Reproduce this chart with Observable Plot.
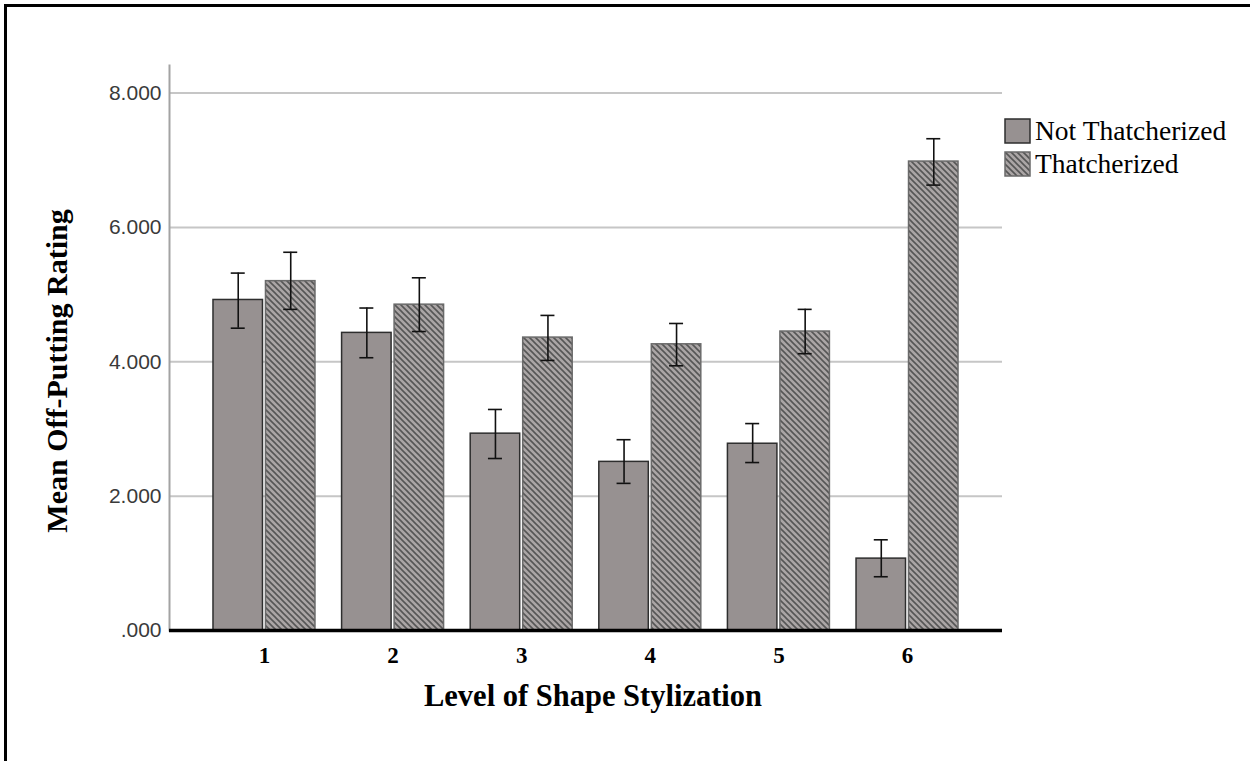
<!DOCTYPE html>
<html>
<head>
<meta charset="utf-8">
<script src="https://cdn.jsdelivr.net/npm/d3@7"></script>
<script src="https://cdn.jsdelivr.net/npm/@observablehq/plot@0.6"></script>
<style>
  html, body { margin: 0; padding: 0; background: #fff; }
  #wrap { position: relative; width: 1250px; height: 761px; overflow: hidden; }
  #border { position: absolute; left: 4px; top: 4px; right: -10px; bottom: -10px;
            border-top: 3px solid #000; border-left: 3px solid #000; pointer-events: none; }
  #legend { position: absolute; left: 1004px; top: 114px; font-family: "Liberation Serif", "Times New Roman", serif;
            font-size: 27.5px; color: #000; }
  .item { display: flex; align-items: center; height: 33px; }
</style>
</head>
<body>
<div id="wrap">
  <div id="chart"></div>
  <div id="legend"></div>
  <div id="border"></div>
</div>
<script>
// Mean off-putting rating by level of shape stylization, with error bars
const levels = ["1", "2", "3", "4", "5", "6"];
const seriesNames = ["Not Thatcherized", "Thatcherized"];

const notMean = [4.92, 4.43, 2.93, 2.51, 2.78, 1.07];
const notLow  = [4.50, 4.06, 2.56, 2.19, 2.50, 0.80];
const notHigh = [5.32, 4.80, 3.29, 2.84, 3.08, 1.35];

const thaMean = [5.20, 4.85, 4.36, 4.26, 4.45, 6.98];
const thaLow  = [4.78, 4.45, 4.02, 3.94, 4.12, 6.63];
const thaHigh = [5.63, 5.25, 4.69, 4.57, 4.78, 7.32];

const yTicks = [0, 2, 4, 6, 8];

const notData = levels.map((l, i) => ({level: l, mean: notMean[i], lo: notLow[i], hi: notHigh[i]}));
const thaData = levels.map((l, i) => ({level: l, mean: thaMean[i], lo: thaLow[i], hi: thaHigh[i]}));

// Geometry of the band scale, so paired bars can split each band
const W = 1250, H = 761;
const mL = 169, mR = 248, mT = 65, mB = 131;
const pInner = 0.207, pOuter = 0.342;
const step = (W - mL - mR) / (levels.length - pInner + 2 * pOuter);
const bw = step * (1 - pInner);
const gap = 1.5;
const half = bw / 2 - gap;          // width of one bar
const cNot = half / 2;              // bar centre offsets from band start
const cTha = bw / 2 + gap + half / 2;
const cap = 7;

const NOT_FILL = "#979191";
const serif = "'Liberation Serif', 'Times New Roman', serif";
const sans = "'Liberation Sans', Arial, sans-serif";

const errStyle = {stroke: "#111", strokeWidth: 1.6};

const plot = Plot.plot({
  width: W,
  height: H,
  marginLeft: mL,
  marginRight: mR,
  marginTop: mT,
  marginBottom: mB,
  x: {type: "band", domain: levels, paddingInner: pInner, paddingOuter: pOuter, round: false},
  y: {domain: [0, 8.41]},
  marks: [
    Plot.ruleY([2, 4, 6, 8], {stroke: "#c6c6c6", strokeWidth: 2}),
    Plot.frame({anchor: "left", stroke: "#a3a3a3", strokeWidth: 2}),
    Plot.barY(notData, {x: "level", y: "mean", fill: NOT_FILL, stroke: "#2e2e2e", strokeWidth: 1.5,
      insetRight: bw / 2 + gap}),
    Plot.barY(thaData, {x: "level", y: "mean", fill: "url(#hatch)", stroke: "#6a6a6a", strokeWidth: 1.5,
      insetLeft: bw / 2 + gap}),
    // error bars: stems and caps
    Plot.ruleX(notData, {x: "level", y1: "lo", y2: "hi", dx: cNot - bw / 2, ...errStyle}),
    Plot.ruleX(thaData, {x: "level", y1: "lo", y2: "hi", dx: cTha - bw / 2, ...errStyle}),
    Plot.tickY(notData, {x: "level", y: "hi", insetLeft: cNot - cap, insetRight: bw - cNot - cap, ...errStyle}),
    Plot.tickY(notData, {x: "level", y: "lo", insetLeft: cNot - cap, insetRight: bw - cNot - cap, ...errStyle}),
    Plot.tickY(thaData, {x: "level", y: "hi", insetLeft: cTha - cap, insetRight: bw - cTha - cap, ...errStyle}),
    Plot.tickY(thaData, {x: "level", y: "lo", insetLeft: cTha - cap, insetRight: bw - cTha - cap, ...errStyle}),
    Plot.ruleY([0], {stroke: "#000", strokeWidth: 3.5}),
    Plot.axisY(yTicks, {tickSize: 0, tickPadding: 8, label: null,
      tickFormat: d => d === 0 ? ".000" : d.toFixed(3)}),
    Plot.axisX({tickSize: 0, tickPadding: 16, label: null}),
    // axis titles
    Plot.text(["Mean Off-Putting Rating"], {frameAnchor: "left", textAnchor: "middle", lineAnchor: "middle",
      dx: -112, dy: 23, rotate: -90,
      fontSize: 30, fontWeight: "bold", fontFamily: serif, fill: "#000"}),
    Plot.text(["Level of Shape Stylization"], {frameAnchor: "bottom", textAnchor: "middle", lineAnchor: "middle",
      dx: 7, dy: 66,
      fontSize: 30.5, fontWeight: "bold", fontFamily: serif, fill: "#000"})
  ]
});

// Tick label typography
plot.querySelectorAll('[aria-label="y-axis tick label"]').forEach(g => {
  g.setAttribute("font-size", 21);
  g.setAttribute("font-family", sans);
  g.setAttribute("fill", "#3a3a3a");
});
plot.querySelectorAll('[aria-label="x-axis tick label"]').forEach(g => {
  g.setAttribute("font-size", 23);
  g.setAttribute("font-weight", "bold");
  g.setAttribute("font-family", serif);
  g.setAttribute("fill", "#000");
});

// Diagonal hatch used for the Thatcherized bars
const ns = "http://www.w3.org/2000/svg";
const hatch = (id) => `
  <pattern id="${id}" patternUnits="userSpaceOnUse" width="6" height="6">
    <rect width="6" height="6" fill="#aaa5a5"></rect>
    <path d="M0,0 L6,6 M-1,5 L1,7 M5,-1 L7,1" stroke="#565656" stroke-width="1.6"></path>
  </pattern>`;
const defs = document.createElementNS(ns, "defs");
defs.innerHTML = hatch("hatch");
plot.insertBefore(defs, plot.firstChild);
document.getElementById("chart").appendChild(plot);

// Legend
const legend = document.getElementById("legend");
seriesNames.forEach((name, i) => {
  const item = document.createElement("div");
  item.className = "item";
  const sw = document.createElementNS(ns, "svg");
  sw.setAttribute("width", 27);
  sw.setAttribute("height", 26);
  sw.style.marginRight = "4px";
  sw.innerHTML = i === 0
    ? `<rect x="1" y="1" width="25" height="24" fill="${NOT_FILL}" stroke="#2e2e2e" stroke-width="1.5"></rect>`
    : `<defs>${hatch("hatchL")}</defs>
       <rect x="1" y="1" width="25" height="24" fill="url(#hatchL)" stroke="#6a6a6a" stroke-width="1.5"></rect>`;
  const label = document.createElement("span");
  label.textContent = name;
  item.appendChild(sw);
  item.appendChild(label);
  legend.appendChild(item);
});
</script>
</body>
</html>
